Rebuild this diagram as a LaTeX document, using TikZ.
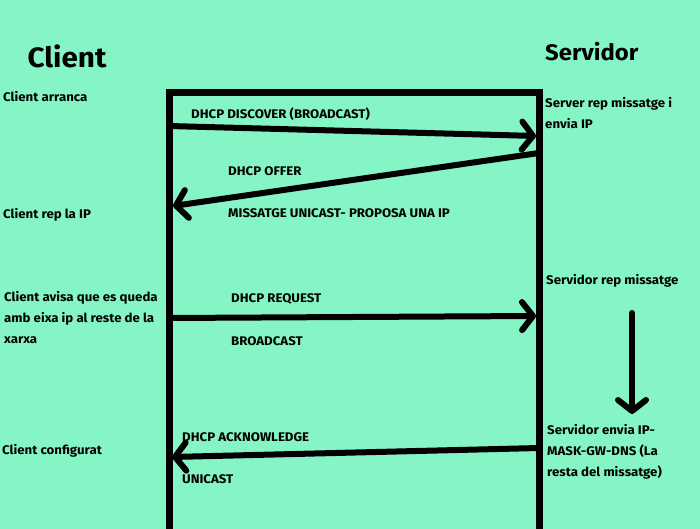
\documentclass[tikz,border=0pt]{standalone}
\usepackage{fontspec}
\setmainfont{Fira Sans}[FakeStretch=1.06]
\usetikzlibrary{arrows.meta}
\definecolor{bg}{HTML}{85F5C5}
\tikzset{
  lbl/.style={anchor=west, inner sep=0pt, font=\fontsize{12.5}{21}\selectfont\bfseries, align=left},
  life/.style={line width=7pt, line cap=rect},
  msg/.style={line width=6pt, line cap=round, -{Straight Barb[length=11pt,width=28pt,round]}},
  ttl/.style={inner sep=0pt, font=\bfseries}
}
\begin{document}
\begin{tikzpicture}[x=1pt,y=1pt]
\fill[bg] (0,0) rectangle (700,-529);
\useasboundingbox (0,0) rectangle (700,-529);
% lifelines
\coordinate (cl0) at (169,-93);
\coordinate (cl1) at (169,-529);
\coordinate (sv0) at (539,-93);
\coordinate (sv1) at (539,-529);
\draw[life] (cl1) -- (cl0) -- (sv0) -- (sv1);
% titles
\node[ttl, font=\fontsize{28}{32}\selectfont\bfseries] (tc) at (67,-56) {Client};
\node[ttl, font=\fontsize{22.5}{26}\selectfont\bfseries, anchor=west] (ts) at (545,-52) {Servidor};
% side labels
\node[lbl] (c1) at (3,-97) {Client arranca};
\node[lbl] (c2) at (3,-215) {Client rep la IP};
\node[lbl, anchor=north west] (c3) at (4,-291) {Client avisa que es queda\\amb eixa ip al reste de la\\xarxa};
\node[lbl] (c4) at (2,-451) {Client configurat};
\node[lbl, anchor=north west] (s1) at (545,-97) {Server rep missatge i\\envia IP};
\node[lbl] (s2) at (546,-281) {Servidor rep missatge};
\node[lbl, anchor=north west] (s3) at (547,-424) {Servidor envia IP-\\MASK-GW-DNS (La\\resta del missatge)};
% message labels
\node[lbl] (m1) at (191,-114) {DHCP DISCOVER (BROADCAST)};
\node[lbl] (m2) at (228,-171) {DHCP OFFER};
\node[lbl] (m2b) at (228,-213) {MISSATGE UNICAST- PROPOSA UNA IP};
\node[lbl] (m3) at (231,-299) {DHCP REQUEST};
\node[lbl] (m3b) at (231,-341) {BROADCAST};
\node[lbl] (m4) at (182,-437) {DHCP ACKNOWLEDGE};
\node[lbl] (m4b) at (182,-479) {UNICAST};
% message endpoints
\coordinate (a1s) at (169,-126);
\coordinate (a1e) at (536,-136);
\coordinate (a2s) at (539,-153);
\coordinate (a2e) at (173,-206);
\coordinate (a3s) at (169,-318);
\coordinate (a3e) at (536,-316);
\coordinate (a4s) at (539,-448);
\coordinate (a4e) at (172,-457);
\coordinate (v0) at (632,-313);
\coordinate (v1) at (632,-414);
\draw[msg] (a1s) -- (a1e);
\draw[msg] (a2s) -- (a2e);
\draw[msg] (a3s) -- (a3e);
\draw[msg] (a4s) -- (a4e);
\draw[msg] (v0) -- (v1);
\end{tikzpicture}
\end{document}
